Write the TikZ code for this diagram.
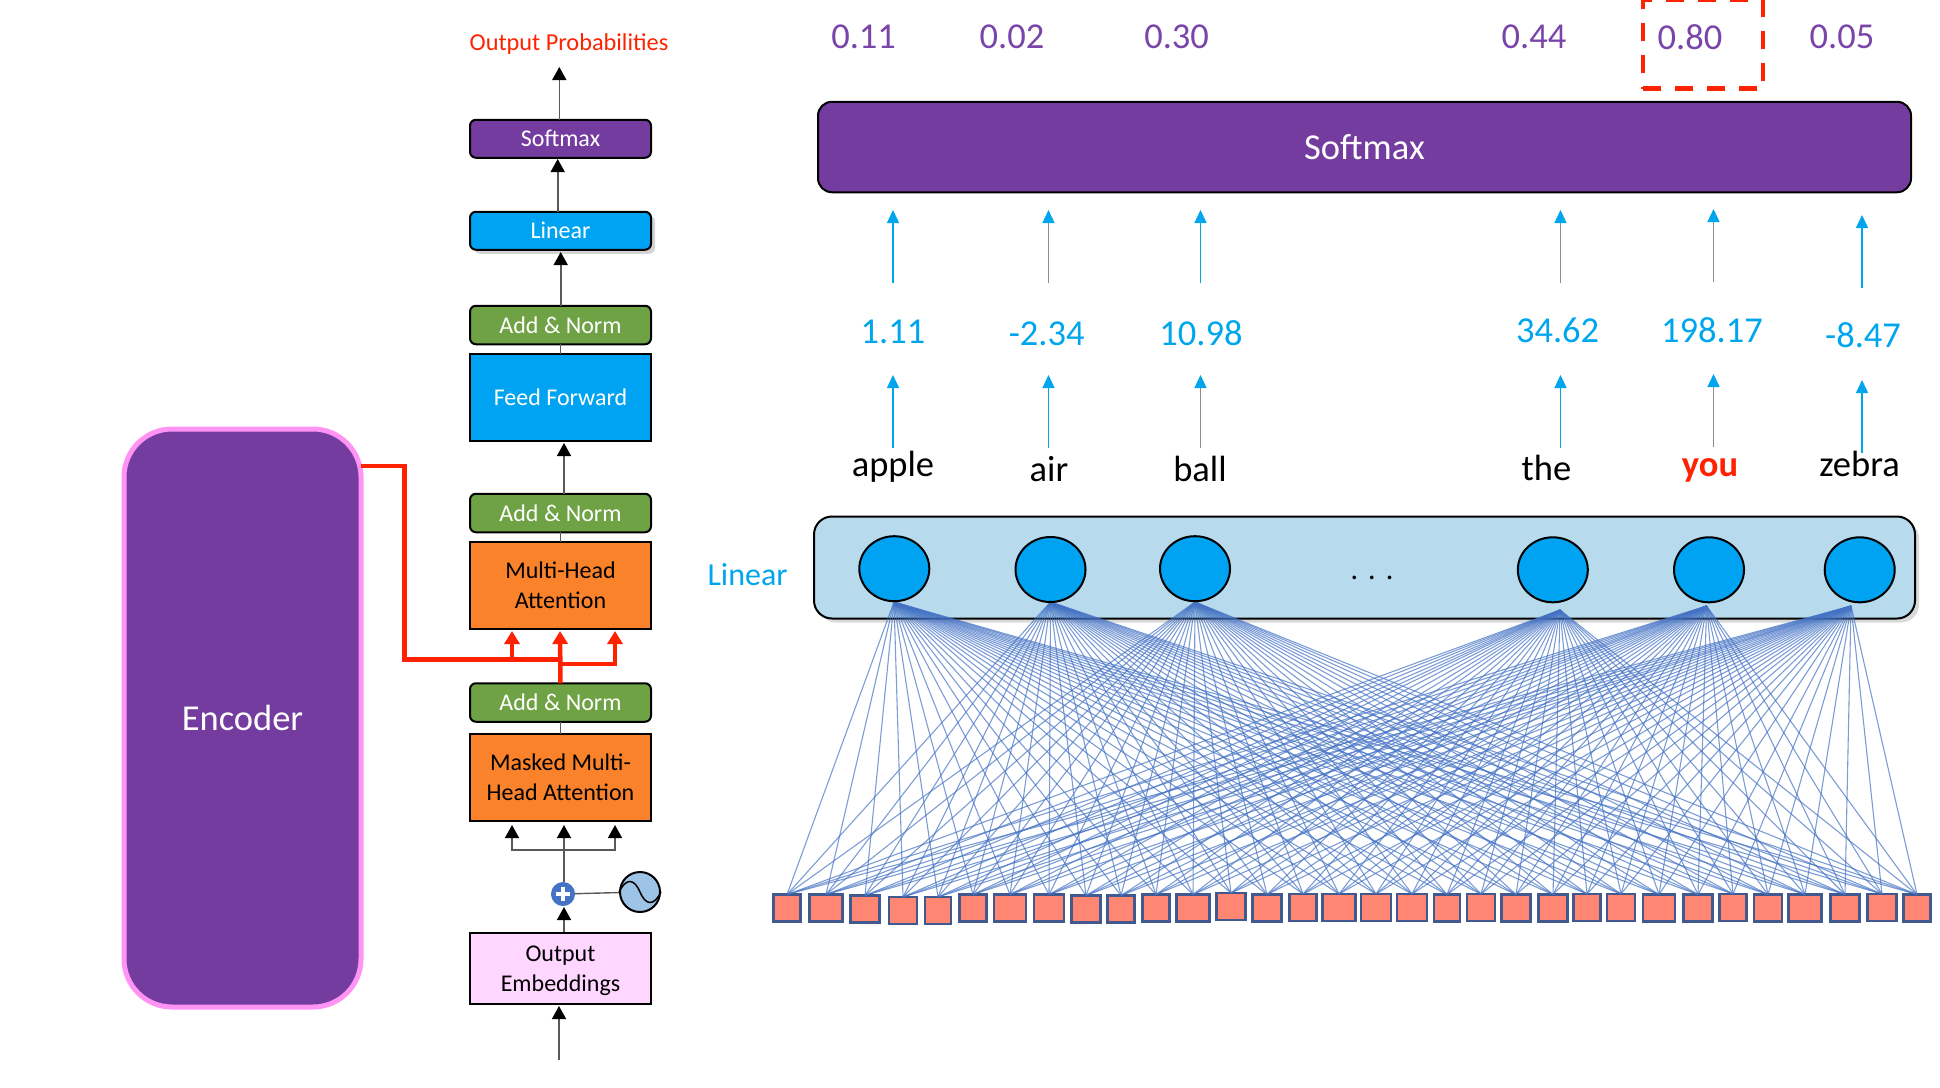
\documentclass[tikz,border=0pt]{standalone}
\usepackage{fontspec}
\setmainfont{Carlito}
\usetikzlibrary{arrows.meta,positioning,shadows,shapes.geometric}
\definecolor{purplebox}{HTML}{743C9F}
\definecolor{bluebox}{HTML}{00A3F1}
\definecolor{greenbox}{HTML}{6FA244}
\definecolor{orangebox}{HTML}{F9822B}
\definecolor{pinkbox}{HTML}{FFD6FF}
\definecolor{pinkedge}{HTML}{FF94F4}
\definecolor{bandblue}{HTML}{B7DAEC}
\definecolor{fanblue}{HTML}{4472C4}
\definecolor{inputred}{HTML}{FF8672}
\definecolor{inputedge}{HTML}{42598F}
\definecolor{redline}{HTML}{FF2200}
\definecolor{sineblue}{HTML}{9DC3E6}
\definecolor{probpurple}{HTML}{7A45A8}
\definecolor{scoreblue}{HTML}{00A6ED}
\tikzset{
  stackbox/.style={draw=black,line width=2pt,minimum width=181pt,outer sep=0pt,align=center,font=\fontsize{24}{30}\selectfont},
  softbox/.style={stackbox,rounded corners=6pt,fill=purplebox,text=white,minimum height=38pt},
  linbox/.style={stackbox,rounded corners=6pt,fill=bluebox,text=white,minimum height=38pt,drop shadow={shadow xshift=4pt,shadow yshift=-4pt,opacity=.35}},
  addnorm/.style={stackbox,rounded corners=6pt,fill=greenbox,text=white,minimum height=38.5pt},
  forward/.style={stackbox,fill=bluebox,text=white,minimum height=86.5pt},
  attention/.style={stackbox,fill=orangebox,minimum height=86.5pt},
  embedbox/.style={stackbox,fill=pinkbox,minimum height=71.5pt},
  thinarrow/.style={color=black!65,line width=1.6pt,-{Triangle[width=14pt,length=13pt,color=black,fill=black]}},
  redarrow/.style={color=redline,line width=4.5pt,-{Triangle[width=15pt,length=13pt]}},
  bigtext/.style={font=\fontsize{36.5}{40}\selectfont},
  prob/.style={bigtext,text=probpurple},
  score/.style={bigtext,text=scoreblue},
  upblue/.style={color=scoreblue,line width=1.4pt,-{Triangle[width=12pt,length=13pt]}},
  upgray/.style={color=black!45,line width=1.4pt,-{Triangle[width=12pt,length=13pt,color=scoreblue,fill=scoreblue]}},
  neuron/.style={ellipse,draw=black,line width=2pt,fill=bluebox,minimum width=70pt,minimum height=65pt,inner sep=0pt},
  inputbox/.style={draw=inputedge,line width=2.5pt,fill=inputred,inner sep=0pt,outer sep=0pt,minimum height=27pt},
  fanline/.style={draw=fanblue,line width=1.1pt,opacity=.7}
}
\begin{document}
\begin{tikzpicture}[x=1pt,y=-1pt]
  \useasboundingbox (0,0) rectangle (1940,1087);

  % encoder
  \node[draw=pinkedge,line width=5pt,fill=purplebox,rounded corners=48pt,minimum width=237pt,minimum height=578pt,text=white,bigtext] (encoder) at (242.5,718) {Encoder};

  % decoder stack, bottom to top
  \node[embedbox] (outemb) at (560.5,968.3) {\rule{0pt}{21pt}Output\\Embeddings};
  \node[attention] (mmha) [above=111.6pt of outemb] {Masked Multi-\\Head Attention};
  \node[addnorm] (ancc) [above=12.7pt of mmha] {Add \& Norm};
  \node[attention] (mha) [above=54.5pt of ancc] {Multi-Head\\Attention};
  \node[addnorm] (anb) [above=10pt of mha] {Add \& Norm};
  \node[forward] (ff) [above=53pt of anb] {Feed Forward};
  \node[addnorm] (ana) [above=10pt of ff] {Add \& Norm};
  \node[linbox] (linsmall) [above=56pt of ana] {Linear};
  \node[softbox] (softsmall) [above=54pt of linsmall] {Softmax};
  \node[text=redline,font=\fontsize{24.3}{30}\selectfont] (outprob) at (569,43.7) {Output Probabilities};

  \coordinate (ina) at (559,1060);
  \coordinate (inb) at (559,1006);
  \coordinate (plusa) at (564,932);
  \coordinate (plusb) at (564,907);
  \coordinate (fork) at (564,850);
  \coordinate (forkl) at (512,850);
  \coordinate (forkr) at (615,850);
  \coordinate (tipl) at (512,825);
  \coordinate (tipm) at (564,825);
  \coordinate (tipr) at (615,825);
  \coordinate (ffin) at (564,494);
  \coordinate (ffout) at (564,443);
  \coordinate (linin) at (560.7,306);
  \coordinate (linout) at (560.7,252);
  \coordinate (softin) at (557.7,212);
  \coordinate (softout) at (557.7,159);
  \coordinate (probin) at (559.3,120);
  \coordinate (probout) at (559.3,67);

  \node[circle,draw=fanblue,line width=1pt,fill=fanblue,minimum size=23pt,inner sep=0pt] (plus) at (563,894) {};
  \node[circle,draw=black,line width=2pt,fill=sineblue,minimum size=40pt,inner sep=0pt] (sine) at (640,892) {};
  \draw[white,line width=4pt] (556,894) -- (570,894) (563,887) -- (563,901);
  \draw[black,line width=1.5pt] (sine.west) .. controls (626,878) and (634,878) .. (sine.center) .. controls (646,906) and (654,906) .. (sine.east);

  \path[thinarrow] (ina) edge (inb)
                   (plusa) edge (plusb)
                   (fork) edge (tipm)
                   (ffin) edge (ffout)
                   (linin) edge (linout)
                   (softin) edge (softout)
                   (probin) edge (probout);
  \draw[draw=black!65,line width=1.6pt] (plus.north -| fork) -- (fork);
  \draw[thinarrow] (fork) -- (forkl) -- (tipl);
  \draw[thinarrow] (fork) -- (forkr) -- (tipr);
  \draw[draw=black!65,line width=1.4pt] (plus) -- (sine);
  \draw[draw=black!65,line width=1.4pt] (mmha.north) -- (ancc.south);
  \draw[draw=black!65,line width=1.4pt] (mha.north) -- (anb.south);
  \draw[draw=black!65,line width=1.4pt] (ff.north) -- (ana.south);

  % red feeds
  \coordinate (enctap) at (361,466);
  \coordinate (redtop) at (404.5,466);
  \coordinate (redlow) at (404.5,659.4);
  \coordinate (redmid) at (560,659.4);
  \coordinate (redl) at (512,659.4);
  \coordinate (redtipl) at (512,631);
  \coordinate (redtipm) at (560,631);
  \coordinate (redbr) at (560.5,664);
  \coordinate (redbrr) at (615,664);
  \coordinate (redtipr) at (615,631);
  \draw[draw=redline,line width=4.5pt,line join=miter] (enctap) -- (redtop) -- (redlow) -- (redmid);
  \draw[redarrow] (redl) -- (redtipl);
  \draw[redarrow] (ancc.north) -- (redtipm);
  \draw[redarrow] (redbr) -- (redbrr) -- (redtipr);

  % right panel
  \node[draw=black,line width=2pt,fill=purplebox,rounded corners=14pt,minimum width=1093pt,minimum height=90.5pt,text=white,bigtext] (softbig) at (1364.5,147) {Softmax};
  \node[draw=redline,line width=4.5pt,dash pattern=on 18pt off 14pt,minimum width=120pt,minimum height=89pt] (pick) at (1703,44) {};
  \node[draw=black,line width=2pt,fill=bandblue,rounded corners=18pt,minimum width=1101pt,minimum height=102pt,drop shadow={shadow xshift=4pt,shadow yshift=-4pt,opacity=.3}] (band) at (1364.5,567.5) {};
  \node[text=scoreblue,font=\fontsize{32}{36}\selectfont] (lintext) at (747.5,575) {Linear};

  \foreach \nm/\val/\vx/\vy/\ax/\sh/\hicol/\locol in {
    a/1.11/893/331.6/893/0/upblue/upblue,
    b/-2.34/1046.7/334/1048.5/0/upgray/upblue,
    c/10.98/1201/332.8/1200.5/0/upblue/upgray,
    d/34.62/1557.6/330/1560.5/0/upgray/upblue,
    e/198.17/1712/330/1713.5/-1/upgray/upgray,
    f/-8.47/1863/335/1862/5/upblue/upblue} {
    \coordinate (wb\nm) at (\ax,448+\sh);
    \coordinate (wt\nm) at (\ax,375+\sh);
    \coordinate (vb\nm) at (\ax,283.3+\sh);
    \coordinate (vt\nm) at (\ax,210+\sh);
    \node[score] (v\nm) at (\vx,\vy) {\val};
    \path[\locol] (wb\nm) edge (wt\nm);
    \path[\hicol] (vb\nm) edge (vt\nm);
  }
  \node[bigtext] (wa) at (893,466.5) {apple};
  \node[bigtext] (wb) at (1049,469) {air};
  \node[bigtext] (wc) at (1200,469) {ball};
  \node[bigtext] (wd) at (1546.5,467.7) {the};
  \node[bigtext,text=redline] (we) at (1710,470) {\textbf{you}};
  \node[bigtext] (wf) at (1859.5,464) {zebra};
  \node[prob] (pa) at (863.6,37) {0.11};
  \node[prob] (pb) at (1012,37) {0.02};
  \node[prob] (pc) at (1176.6,37) {0.30};
  \node[prob] (pd) at (1534,37) {0.44};
  \node[prob] (pe) at (1690,37) {0.80};
  \node[prob] (pf) at (1842,37) {0.05};

  % inputs
  \foreach \cx/\boxw/\cy [count=\i] in {787/27/908,826/33/908,865/29/909,903/28/910.5,938/26/910.5,973/27/908,1010/32/908,1049/30/908,
    1086/29/909,1121/27/909,1156/27/908,1193/33/908,1231/29/906.5,1267/29/908,1303/27/907.5,1339/33/907.5,
    1376/30/907.5,1412/30/907.5,1447/26/908,1481/28/907.5,1516/29/908,1553/29/908,1587/27/907.5,1621/28/907.5,
    1659/32/908,1698/29/908,1733/27/907.5,1768/28/908,1805/33/908,1845/29/908,1882/29/907.5,1917/27/908}
    \node[inputbox,minimum width=\boxw pt] (s\i) at (\cx,\cy) {};

  % fan apexes under the neurons
  \coordinate (apexa) at (894,602);
  \coordinate (apexb) at (1050.5,602);
  \coordinate (apexc) at (1195,602);
  \coordinate (apexd) at (1560,610);
  \coordinate (apexe) at (1706.6,606);
  \coordinate (apexf) at (1851,606);
  \foreach \nm in {a,b,c,d,e,f}
    \foreach \i in {1,...,32}
      \draw[fanline] (apex\nm) -- (s\i.north);

  \node[neuron] (na) at (894.3,568.7) {};
  \node[neuron] (nb) at (1050.5,569.5) {};
  \node[neuron] (nc) at (1195,568.7) {};
  \node[neuron] (nd) at (1552.8,569.8) {};
  \node[neuron] (ne) at (1709,569.8) {};
  \node[neuron] (nf) at (1859.7,569.8) {};
  \node[font=\fontsize{30}{34}\selectfont] (dots) at (1372,578) {.\,\,.\,\,.};
\end{tikzpicture}
\end{document}
